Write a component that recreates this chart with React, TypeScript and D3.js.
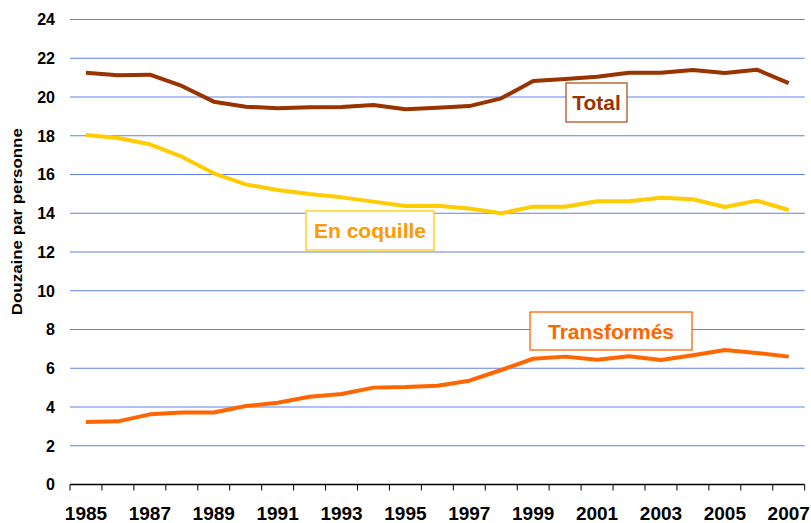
import React from "react";
import * as d3 from "d3";

const years = [1985, 1986, 1987, 1988, 1989, 1990, 1991, 1992, 1993, 1994, 1995, 1996, 1997, 1998, 1999, 2000, 2001, 2002, 2003, 2004, 2005, 2006, 2007];
const totalValues = [21.25, 21.12, 21.15, 20.57, 19.76, 19.5, 19.42, 19.47, 19.48, 19.59, 19.37, 19.45, 19.53, 19.93, 20.83, 20.93, 21.05, 21.25, 21.25, 21.39, 21.24, 21.41, 20.72];
const coquilleValues = [18.04, 17.88, 17.56, 16.92, 16.06, 15.49, 15.2, 14.99, 14.82, 14.6, 14.37, 14.39, 14.25, 14.0, 14.34, 14.34, 14.62, 14.62, 14.8, 14.72, 14.32, 14.65, 14.17];
const transformesValues = [3.23, 3.26, 3.62, 3.71, 3.72, 4.05, 4.22, 4.53, 4.67, 5.0, 5.03, 5.1, 5.36, 5.91, 6.49, 6.6, 6.44, 6.62, 6.43, 6.67, 6.94, 6.79, 6.6];
const yTicks = [0, 2, 4, 6, 8, 10, 12, 14, 16, 18, 20, 22, 24];
const yearLabels = [1985, 1987, 1989, 1991, 1993, 1995, 1997, 1999, 2001, 2003, 2005, 2007];

const W = 811;
const H = 523;
const FONT = "Arial, 'Liberation Sans', Helvetica, sans-serif";

const series = [
  { name: "Total", values: totalValues, color: "#993300", text: "#993300", border: "#B5541F", box: { x: 566, y: 83, w: 61, h: 39 } },
  { name: "En coquille", values: coquilleValues, color: "#FFCC00", text: "#FF9900", border: "#FFCC00", box: { x: 306, y: 211, w: 128, h: 39 } },
  { name: "Transformés", values: transformesValues, color: "#FF6600", text: "#FF6600", border: "#FF6600", box: { x: 530, y: 312, w: 162, h: 38 } },
];

export default function App() {
  const x = d3.scaleBand<number>().domain(years).range([70, 804.7]).padding(0);
  const y = d3.scaleLinear().domain([0, 24]).range([484.5, 19.5]);
  const cx = (yr: number) => (x(yr) as number) + x.bandwidth() / 2;

  const line = d3
    .line<number>()
    .x((_, i) => cx(years[i]))
    .y((v) => y(v));

  const tickXs = years.map((yr) => x(yr) as number).concat([804.7]);

  return (
    <div style={{ position: "absolute", left: 0, top: 0 }}>
      <svg width={W} height={H} style={{ display: "block", background: "#fff" }} fontFamily={FONT}>
        {/* gridlines */}
        {yTicks.filter((t) => t > 0).map((t) => (
          <line key={t} x1={70} x2={804.7} y1={y(t)} y2={y(t)} stroke="#5F82EC" strokeWidth={1.2} />
        ))}
        {/* y tick labels */}
        {yTicks.map((t) => (
          <text key={t} x={55} y={y(t)} dy="0.36em" textAnchor="end" fontSize={16} fontWeight="bold" fill="#000">
            {t}
          </text>
        ))}
        {/* y axis title */}
        <text
          transform={`translate(22, 221.7) rotate(-90)`}
          textAnchor="middle"
          fontSize={15}
          fontWeight="bold"
          fill="#000"
          textLength={187}
          lengthAdjust="spacingAndGlyphs"
        >
          Douzaine par personne
        </text>
        {/* x axis */}
        <line x1={70} x2={804.7} y1={y(0)} y2={y(0)} stroke="#000" strokeWidth={1.3} />
        {tickXs.map((tx, i) => (
          <line key={i} x1={tx} x2={tx} y1={y(0)} y2={y(0) + 6} stroke="#000" strokeWidth={1} />
        ))}
        {yearLabels.map((yr) => (
          <text key={yr} x={cx(yr)} y={520} textAnchor="middle" fontSize={19} fontWeight="bold" fill="#000">
            {yr}
          </text>
        ))}
        {/* lines */}
        {series.map((s) => (
          <path
            key={s.name}
            d={line(s.values) as string}
            fill="none"
            stroke={s.color}
            strokeWidth={4}
            strokeLinejoin="round"
            strokeLinecap="butt"
          />
        ))}
        {/* labels */}
        {series.map((s) => (
          <g key={s.name + "-label"}>
            <rect x={s.box.x} y={s.box.y} width={s.box.w} height={s.box.h} fill="#fff" stroke={s.border} strokeWidth={1.3} />
            <text
              x={s.box.x + s.box.w / 2}
              y={s.box.y + s.box.h / 2}
              dy="0.36em"
              textAnchor="middle"
              fontSize={21}
              fontWeight="bold"
              fill={s.text}
            >
              {s.name}
            </text>
          </g>
        ))}
      </svg>
    </div>
  );
}
